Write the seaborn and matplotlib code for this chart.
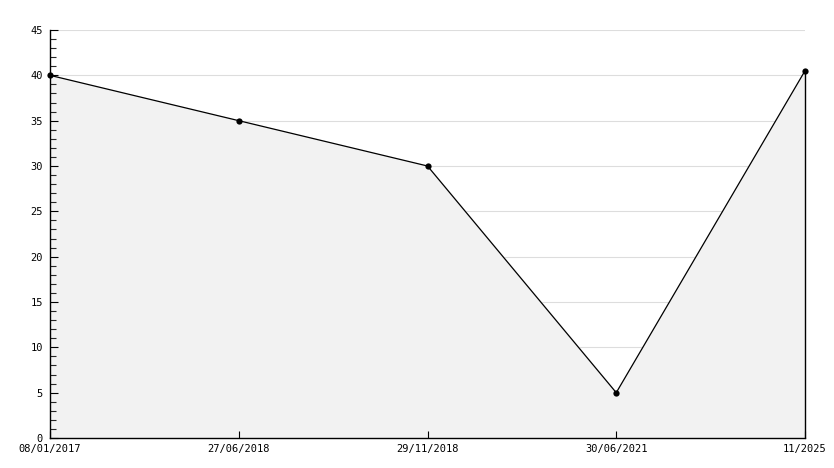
import matplotlib
matplotlib.use("Agg")
import matplotlib.pyplot as plt
import seaborn as sns
import numpy as np
from matplotlib.ticker import MultipleLocator

dates = ["08/01/2017", "27/06/2018", "29/11/2018", "30/06/2021", "11/2025"]
values = [40, 35, 30, 5, 40.5]

sns.set_style("white")
plt.rcParams['font.family'] = ['DejaVu Sans Mono', 'DejaVu Sans']

fig = plt.figure(figsize=(8.34, 4.68), dpi=100)
ax = fig.add_axes([50 / 834, 30 / 468, 755 / 834, 408 / 468])

pos = np.arange(len(dates))

# grid lines under the filled area
yticks = np.arange(5, 50, 5)
ax.hlines(yticks, pos[0], pos[-1], color="#dddddd", linewidth=0.8, zorder=0)

ax.fill_between(pos, values, 0, color="#f2f2f2", zorder=1)
# closing edge of the area on the right
ax.plot([pos[-1], pos[-1]], [0, values[-1]], color="black", linewidth=1,
        zorder=2, clip_on=False)
sns.lineplot(x=pos, y=values, ax=ax, color="black", linewidth=0.9,
             marker="o", markersize=4.5, markeredgewidth=0, zorder=3)
for l in ax.lines:
    l.set_clip_on(False)

ax.set_xlim(0, len(dates) - 1)
ax.set_ylim(0, 45)
ax.set_xticks(pos)
ax.set_xticklabels(dates)
ax.yaxis.set_major_locator(MultipleLocator(5))
ax.yaxis.set_minor_locator(MultipleLocator(1))
ax.grid(False)
ax.set_axisbelow(False)

for s in ["top", "right"]:
    ax.spines[s].set_visible(False)
for s in ["left", "bottom"]:
    ax.spines[s].set_color("black")
    ax.spines[s].set_linewidth(1)
    ax.spines[s].set_zorder(4)

ax.tick_params(axis="y", which="major", direction="in", length=6, width=0.8,
               left=True, labelsize=7.5, pad=5, colors="black")
ax.tick_params(axis="y", which="minor", direction="in", length=4, width=0.8, left=True)
ax.tick_params(axis="x", which="major", direction="in", length=5, width=0.8,
               bottom=True, labelsize=7.5, pad=4, colors="black")

fig.savefig("out.png", dpi=100)
